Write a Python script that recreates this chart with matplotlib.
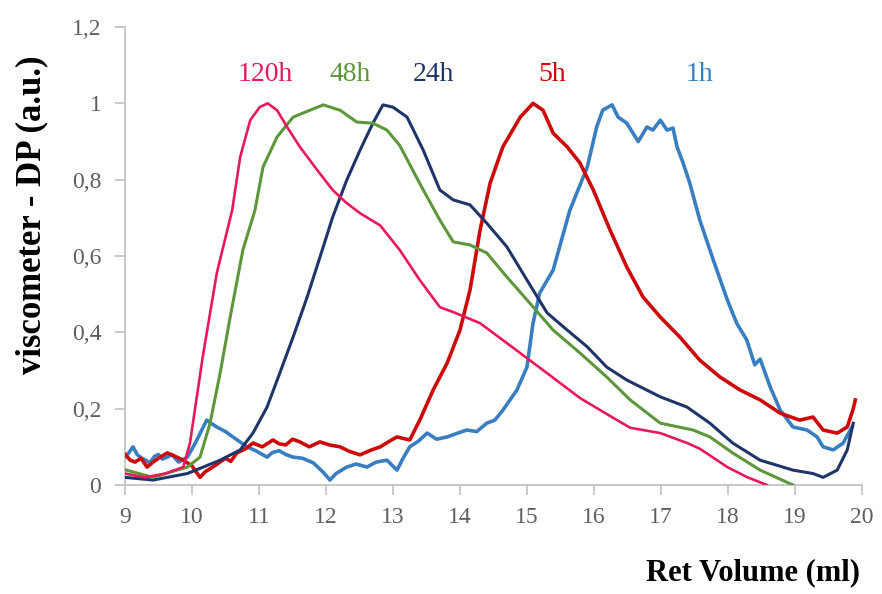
import matplotlib
matplotlib.use("Agg")
import matplotlib.pyplot as plt

# (Ret Volume in ml, detector signal in a.u.)
x_120h = [9.0, 9.3, 9.6, 9.87, 9.97, 10.16, 10.37, 10.6, 10.72, 10.87, 11.01, 11.13,
          11.27, 11.42, 11.61, 11.87, 12.1, 12.3, 12.51, 12.81, 13.1, 13.4, 13.7, 13.9,
          14.3, 14.79, 15.3, 15.79, 16.2, 16.54, 16.99, 17.39, 17.58, 17.99, 18.28, 18.58]
y_120h = [0.03, 0.02, 0.03, 0.047, 0.11, 0.335, 0.555, 0.72, 0.86, 0.956, 0.99, 1.0,
          0.982, 0.938, 0.886, 0.825, 0.773, 0.74, 0.712, 0.68, 0.616, 0.537, 0.466, 0.453,
          0.424, 0.36, 0.293, 0.228, 0.185, 0.15, 0.136, 0.11, 0.095, 0.047, 0.021, 0.0]

x_48h = [9.0, 9.42, 9.93, 10.12, 10.27, 10.42, 10.57, 10.76, 10.94, 11.06, 11.27, 11.51,
         11.76, 11.96, 12.21, 12.46, 12.7, 12.91, 13.1, 13.4, 13.7, 13.9, 14.15, 14.4,
         14.7, 15.04, 15.39, 15.79, 16.19, 16.54, 16.99, 17.48, 17.73, 18.07, 18.48, 18.97]
y_48h = [0.04, 0.02, 0.047, 0.073, 0.162, 0.293, 0.44, 0.616, 0.72, 0.833, 0.912, 0.964,
         0.982, 0.996, 0.982, 0.951, 0.948, 0.93, 0.89, 0.79, 0.694, 0.637, 0.629, 0.608,
         0.545, 0.477, 0.406, 0.346, 0.283, 0.223, 0.162, 0.144, 0.126, 0.084, 0.039, 0.0]

x_24h = [9.0, 9.42, 9.93, 10.42, 10.72, 10.91, 11.12, 11.31, 11.51, 11.72, 11.91, 12.1,
         12.31, 12.51, 12.7, 12.85, 13.0, 13.21, 13.45, 13.7, 13.9, 14.15, 14.4, 14.7,
         15.0, 15.3, 15.6, 15.9, 16.19, 16.49, 16.99, 17.39, 17.73, 18.07, 18.48, 18.97,
         19.27, 19.42, 19.63, 19.78, 19.87]
y_24h = [0.02, 0.013, 0.03, 0.065, 0.092, 0.136, 0.204, 0.293, 0.388, 0.493, 0.597, 0.702,
         0.799, 0.878, 0.948, 0.996, 0.99, 0.964, 0.878, 0.773, 0.747, 0.734, 0.686, 0.624,
         0.537, 0.451, 0.406, 0.362, 0.309, 0.275, 0.231, 0.204, 0.162, 0.11, 0.065, 0.039,
         0.03, 0.02, 0.039, 0.092, 0.162]

x_5h = [9.0, 9.08, 9.15, 9.24, 9.33, 9.42, 9.5, 9.63, 9.75, 9.87, 10.0, 10.12, 10.2, 10.31,
        10.5, 10.58, 10.67, 10.8, 10.91, 11.05, 11.21, 11.3, 11.4, 11.5, 11.61, 11.75,
        11.91, 12.05, 12.21, 12.35, 12.51, 12.65, 12.81, 12.95, 13.06, 13.25, 13.4, 13.6,
        13.81, 14.0, 14.15, 14.3, 14.45, 14.64, 14.9, 15.09, 15.24, 15.39, 15.6, 15.79,
        15.99, 16.24, 16.49, 16.73, 16.99, 17.28, 17.58, 17.88, 18.18, 18.48, 18.78,
        19.07, 19.27, 19.42, 19.63, 19.78, 19.87, 19.9]
y_5h = [0.08, 0.065, 0.06, 0.07, 0.047, 0.06, 0.07, 0.084, 0.075, 0.065, 0.05, 0.02, 0.035,
        0.047, 0.07, 0.062, 0.084, 0.095, 0.11, 0.1, 0.118, 0.108, 0.105, 0.12, 0.113,
        0.1, 0.113, 0.105, 0.1, 0.088, 0.079, 0.09, 0.1, 0.115, 0.126, 0.118, 0.17, 0.249,
        0.32, 0.406, 0.511, 0.668, 0.791, 0.886, 0.964, 1.0, 0.982, 0.922, 0.886, 0.844,
        0.773, 0.668, 0.571, 0.493, 0.44, 0.388, 0.327, 0.283, 0.249, 0.223, 0.188,
        0.17, 0.178, 0.144, 0.136, 0.152, 0.2, 0.223]

x_1h = [9.0, 9.06, 9.12, 9.18, 9.25, 9.31, 9.37, 9.44, 9.5, 9.56, 9.63, 9.7, 9.8, 9.93,
        10.05, 10.22, 10.3, 10.37, 10.5, 10.61, 10.7, 10.82, 10.95, 11.12, 11.2, 11.3,
        11.4, 11.51, 11.65, 11.81, 11.95, 12.06, 12.15, 12.31, 12.45, 12.61, 12.75, 12.91,
        13.06, 13.15, 13.25, 13.38, 13.51, 13.65, 13.81, 13.95, 14.1, 14.25, 14.4, 14.52,
        14.64, 14.85, 15.0, 15.09, 15.19, 15.39, 15.64, 15.9, 16.04, 16.13, 16.27, 16.36,
        16.49, 16.66, 16.79, 16.88, 16.99, 17.09, 17.18, 17.24, 17.33, 17.43, 17.58,
        17.78, 17.99, 18.13, 18.28, 18.4, 18.48, 18.63, 18.78, 18.97, 19.18, 19.33,
        19.42, 19.57, 19.72, 19.85]
y_1h = [0.073, 0.085, 0.1, 0.08, 0.07, 0.065, 0.058, 0.075, 0.08, 0.068, 0.073, 0.08, 0.06,
        0.073, 0.11, 0.17, 0.16, 0.152, 0.14, 0.126, 0.115, 0.1, 0.09, 0.073, 0.085, 0.09,
        0.08, 0.073, 0.07, 0.058, 0.035, 0.013, 0.03, 0.047, 0.055, 0.047, 0.06, 0.065,
        0.039, 0.07, 0.1, 0.115, 0.136, 0.12, 0.126, 0.135, 0.144, 0.14, 0.162, 0.17,
        0.196, 0.249, 0.309, 0.424, 0.503, 0.563, 0.72, 0.833, 0.938, 0.982, 0.996, 0.964,
        0.948, 0.9, 0.938, 0.93, 0.956, 0.93, 0.935, 0.886, 0.844, 0.791, 0.694,
        0.59, 0.485, 0.424, 0.38, 0.315, 0.33, 0.257, 0.196, 0.152, 0.144, 0.126,
        0.1, 0.092, 0.11, 0.152]

labels = ["120h", "48h", "24h", "5h", "1h"]
label_x = [11.09, 12.36, 13.6, 15.37, 17.58]
colors = ["#E8195B", "#5E973B", "#1F3469", "#CC0A0A", "#3A7EC2"]

x_ticks = list(range(9, 21))
y_ticks = [0, 0.2, 0.4, 0.6, 0.8, 1.0, 1.2]
y_ticklabels = ["0", "0,2", "0,4", "0,6", "0,8", "1", "1,2"]

fig = plt.figure(figsize=(8.82, 5.94), dpi=100)
ax = fig.add_axes([0.1417, 0.1835, 0.8356, 0.771])

# draw order: noisy early ones underneath
ax.plot(x_1h, y_1h, color=colors[4], lw=2.6, zorder=2)
ax.plot(x_5h, y_5h, color=colors[3], lw=2.6, zorder=3)
ax.plot(x_24h, y_24h, color=colors[2], lw=2.2, zorder=4)
ax.plot(x_48h, y_48h, color=colors[1], lw=2.2, zorder=5)
ax.plot(x_120h, y_120h, color=colors[0], lw=1.9, zorder=6)

for lab, lx, c in zip(labels, label_x, colors):
    ax.text(lx, 1.075, lab, color=c, ha="center", va="center",
            fontsize=20, family="Liberation Serif")

ax.set_xlim(9, 20)
ax.set_ylim(0, 1.2)
ax.set_xticks(x_ticks)
ax.set_xticklabels([str(t) for t in x_ticks])
ax.set_yticks(y_ticks)
ax.set_yticklabels(y_ticklabels)

for s in ["top", "right"]:
    ax.spines[s].set_visible(False)
for s in ["left", "bottom"]:
    ax.spines[s].set_color("#C0C0C0")
    ax.spines[s].set_linewidth(1.2)

ax.tick_params(axis="both", direction="out", length=7, width=1.2, color="#C0C0C0",
               labelcolor="#5F5F5F", labelsize=17)
ax.tick_params(axis="x", pad=9)
ax.tick_params(axis="y", pad=10)
for t in ax.get_xticklabels() + ax.get_yticklabels():
    t.set_family("Liberation Serif")

fig.text(0.036, 0.638, "viscometer - DP (a.u.)", rotation=90, ha="center", va="center",
         fontsize=25, fontweight="bold", family="Liberation Serif")
fig.text(0.975, 0.012, "Ret Volume (ml)", ha="right", va="bottom",
         fontsize=22, fontweight="bold", family="Liberation Serif")

fig.savefig("out.png", dpi=100)
